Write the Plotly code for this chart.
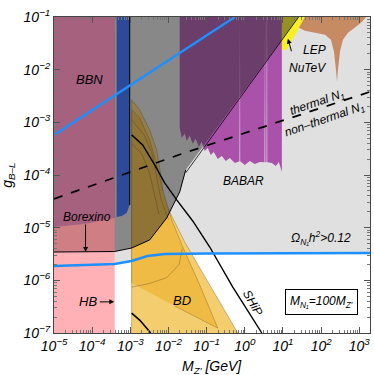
import numpy as np
import plotly.graph_objects as go

# All boundaries as log10(M_Z' / GeV) and log10(g_B-L)
xr = [-5, 3.28]
yr = [-7, -1]

# relic abundance line (Omega h^2 = 0.12), lower blue curve
relic_lm = [-5, -3.41, -2.97, -2.55, -2.1, -1.0, 3.28]
relic_lg = [-5.728, -5.69, -5.633, -5.538, -5.50, -5.49, -5.481]

# upper blue line
blue2_lm = [-5, -3.0, -0.26]
blue2_lg = [-3.24, -2.29, -1.0]

# thermal / non-thermal N1 boundary (dashed)
therm_lm = [-5, -1.58, 3.28]
therm_lg = [-4.455, -3.58, -2.42]

# HB / Borexino / BBN strip at small mass
hb_edge = -3.41
borex_lm = [-5, -3.806, -3.412, -2.966, -2.494, -2.047, -1.706, -1.549]
borex_lg = [-5.462, -5.462, -5.453, -5.386, -5.234, -4.816, -4.321, -3.903]
bbn_lm = [-5, -4.2, -3.41]
bbn_lg = [-4.987, -4.93, -4.816]

# gray excluded wedge: straight edge log g = log M - 2.41
wedge_off = -2.41

# blue column
col_lm = [-3.36, -3.018, -3.018, -3.097, -3.228, -3.36]
col_lg = [-1, -1, -4.568, -4.720, -4.777, -4.797]

# beam dump (BD)
bd_out_lm = [-2.966, -2.966, -2.756, -2.494, -2.310, -2.181, -2.126, -1.575, -0.919, -0.184]
bd_out_lg = [-7.0, -2.572, -2.762, -3.143, -3.523, -4.093, -4.473, -5.272, -6.089, -7.0]
bd_in_lm = [-2.966, -2.966, -2.756, -2.494, -2.310, -2.152, -1.916, -1.627, -1.181, -0.709, -1.837]
bd_in_lg = [-6.051, -2.762, -2.914, -3.333, -3.808, -4.283, -4.854, -5.367, -6.089, -6.907, -6.489]
# faint contours inside BD
bdc1_lm = [-2.966, -2.63, -2.42, -2.30, -2.20, -2.00]
bdc1_lg = [-2.95, -3.25, -3.62, -4.05, -4.45, -4.85]
bdc2_lm = [-2.966, -2.70, -2.50, -2.38, -2.25]
bdc2_lg = [-3.40, -3.60, -3.95, -4.35, -4.75]
bdc3_lm = [-2.966, -2.50, -2.05, -1.72, -1.64]
bdc3_lg = [-6.13, -6.06, -5.95, -5.70, -5.40]

# BABAR lower edge (gaps at resonances reach the top)
babar_lm = [-1.706, -1.654, -1.575, -1.522, -1.444, -1.365, -1.286, -1.207, -1.129, -1.050,
            -0.971, -0.892, -0.814, -0.709, -0.604, -0.499, -0.394, -0.262, -0.14, -0.135,
            -0.127, -0.122, 0.0, 0.131, 0.262, 0.394, 0.515, 0.52, 0.53, 0.535, 0.57, 0.575,
            0.583, 0.588, 0.709, 0.814, 0.892, 0.971]
babar_lg = [-3.105, -3.295, -3.219, -3.352, -3.257, -3.409, -3.314, -3.466, -3.371, -3.542,
            -3.485, -3.618, -3.561, -3.694, -3.637, -3.732, -3.675, -3.770, -3.74, -1.0,
            -1.0, -3.74, -3.808, -3.732, -3.789, -3.751, -3.76, -1.0, -1.0, -3.76, -3.76, -1.0,
            -1.0, -3.76, -3.770, -3.827, -3.751, -3.941]

# NuTeV band and LEP
nutev_lm = [0.971, 1.575, 1.102, 0.971]
nutev_lg = [-1.0, -1.0, -1.622, -1.622]
lep_lm = [1.575, 1.417, 1.575, 1.837, 2.100, 2.257, 2.336, 2.388, 2.415, 2.441, 2.493, 2.572,
          2.703, 2.913, 3.071, 3.176]
lep_lg = [-1.0, -1.203, -1.260, -1.298, -1.336, -1.432, -1.660, -2.002, -2.230, -2.002,
          -1.660, -1.432, -1.298, -1.184, -1.089, -1.0]

# SHiP sensitivity
ship_lm = [-2.966, -2.677, -2.362, -2.100, -1.785, -1.365, -0.919, -0.315, 0.446]
ship_lg = [-3.238, -3.428, -3.808, -4.150, -4.473, -4.873, -5.367, -6.127, -7.0]
# short black curve inside BD
bdl_lm = [-2.966, -2.756, -2.598, -2.467]
bdl_lg = [-6.622, -6.755, -6.888, -7.0]


def P(lm, lg):
    return list(10 ** np.array(lm, float)), list(10 ** np.array(lg, float))


fig = go.Figure()


def poly(lm, lg, color, edge=None):
    x, y = P(lm, lg)
    fig.add_trace(go.Scatter(x=x, y=y, fill="toself", fillcolor=color, mode="lines",
                             line=dict(width=0.7 if edge else 0, color=edge or color),
                             hoverinfo="skip", showlegend=False))


def line(lm, lg, color="black", width=1, dash=None):
    x, y = P(lm, lg)
    fig.add_trace(go.Scatter(x=x, y=y, mode="lines", line=dict(color=color, width=width, dash=dash),
                             hoverinfo="skip", showlegend=False))


# light gray: Omega h^2 > 0.12
poly(relic_lm + [xr[1], xr[0]], relic_lg + [yr[1], yr[1]], "#e0e0e0")

# small mass strip
poly([xr[0], hb_edge, hb_edge, xr[0]], [yr[0], yr[0], yr[1], yr[1]], "#ffb1b6")
poly([xr[0], hb_edge, hb_edge, xr[0]], [borex_lg[0], borex_lg[2], yr[1], yr[1]], "#cf7f83")
poly(bbn_lm + [hb_edge, xr[0]], bbn_lg + [yr[1], yr[1]], "#a6617f")

# beam dump
poly(bd_out_lm, bd_out_lg, "#f4cd6e", "rgba(120,90,30,0.55)")
poly(bd_in_lm, bd_in_lg, "#efbb44", "rgba(120,90,30,0.55)")
for a, b in [(bdc1_lm, bdc1_lg), (bdc2_lm, bdc2_lg), (bdc3_lm, bdc3_lg)]:
    line(a, b, "rgba(110,80,30,0.55)", 0.7)

# BABAR, NuTeV, LEP
poly(babar_lm + [babar_lm[-1], babar_lm[0]], babar_lg + [yr[1], yr[1]], "#aa52aa")
poly(nutev_lm, nutev_lg, "#f8f020")
poly(lep_lm, lep_lg, "#c78b64")

# gray wedge (Borexino + straight edge) drawn translucent on top
top_lm = yr[1] - wedge_off
gw_lm = [hb_edge] + borex_lm[2:] + [top_lm, hb_edge]
gw_lg = [yr[1]] + borex_lg[2:] + [yr[1], yr[1]]
poly(gw_lm, gw_lg, "rgba(40,40,40,0.48)")

# blue column
poly(col_lm, col_lg, "#2c4a97")
line([-3.018, -3.018], [-1, -4.568], "#111", 1.2)

# boundary lines
line(borex_lm, borex_lg, "black", 1)
line([borex_lm[-1], top_lm], [borex_lm[-1] + wedge_off, yr[1]], "black", 0.8)
line(ship_lm, ship_lg, "black", 1.4)
line(bdl_lm, bdl_lg, "black", 1.6)
line(therm_lm, therm_lg, "black", 1.8, "dash")
line(relic_lm, relic_lg, "#1e8fff", 2.4)
line(blue2_lm, blue2_lg, "#1e8fff", 2.4)

F = "Liberation Sans"


def txt(lm, lg, s, size=12, angle=0, **kw):
    fig.add_annotation(x=lm, y=lg, text=s, showarrow=False, textangle=angle,
                       font=dict(family=F, size=size, color="black", style="italic"), **kw)


def arrow(lm, lg, ax, ay):
    fig.add_annotation(x=lm, y=lg, ax=ax, ay=ay, text="", showarrow=True, arrowhead=2,
                       arrowsize=1, arrowwidth=1, arrowcolor="black")


txt(-4.068, -2.192, "BBN", 13)
txt(-4.147, -4.797, "Borexino", 12)
arrow(-4.173, -5.462, 0, -29)
txt(-4.121, -6.409, "HB", 13)
arrow(-3.42, -6.409, -16, 0)
txt(-1.653, -6.39, "BD", 13)
txt(-0.024, -4.11, "BABAR", 12)
txt(1.837, -1.622, "LEP", 12)
txt(1.654, -1.964, "NuTeV", 12)
arrow(1.129, -1.413, 4, 14)
txt(1.90, -2.64, "thermal N<sub>1</sub>", 12, -19)
txt(2.10, -2.96, "non\u2013thermal N<sub>1</sub>", 12, -19)
txt(0.21, -6.43, "SHiP", 12, 60)
txt(2.0, -5.199, "\u03a9<sub>N\u2081</sub>h<sup>2</sup>>0.12", 12)
txt(2.0, -6.41, "M<sub>N\u2081</sub>=100M<sub>Z\u2032</sub>", 12,
    bordercolor="black", borderwidth=1, borderpad=4, bgcolor="white")

fig.add_annotation(xref="paper", yref="paper", x=0.5, y=-0.108, xanchor="center", yanchor="middle",
                   text="M<sub>Z\u2032</sub> [GeV]", showarrow=False,
                   font=dict(family=F, size=14, color="black", style="italic"))
fig.add_annotation(xref="paper", yref="paper", x=-0.146, y=0.5, xanchor="center", yanchor="middle",
                   text="g<sub>B\u2013L</sub>", textangle=-90, showarrow=False,
                   font=dict(family=F, size=14, color="black", style="italic"))

xt = list(range(-5, 4))
yt = list(range(-7, 0))


def minors(a, b):
    return [m * 10.0 ** k for k in range(a, b) for m in range(2, 10)]


axis_common = dict(type="log", showgrid=False, zeroline=False, showline=True, linecolor="#444",
                   linewidth=1, mirror="allticks", ticks="inside", ticklen=6, tickcolor="#555",
                   tickfont=dict(family=F, size=14, color="black", style="italic"),
                   tickmode="array", layer="above traces")

fig.update_xaxes(range=xr, tickvals=[10.0 ** k for k in xt],
                 ticktext=["10<sup>%s</sup>" % str(k).replace("-", "\u2212") for k in xt],
                 minor=dict(tickvals=minors(-5, 4), ticks="inside", ticklen=3, tickcolor="#777"),
                 **axis_common)
fig.update_yaxes(range=yr, tickvals=[10.0 ** k for k in yt],
                 ticktext=["10<sup>%s</sup>" % str(k).replace("-", "\u2212") for k in yt],
                 minor=dict(tickvals=minors(-7, -1), ticks="inside", ticklen=3, tickcolor="#777"),
                 **axis_common)

fig.update_layout(width=374, height=375, margin=dict(l=54, r=4, t=17, b=42),
                  plot_bgcolor="white", paper_bgcolor="white", showlegend=False)

# drop the default 8px body margin so the figure sits at the page corner
fig.write_html("out.html", config={"displayModeBar": False},
               post_script="document.body.style.margin='0px';")
